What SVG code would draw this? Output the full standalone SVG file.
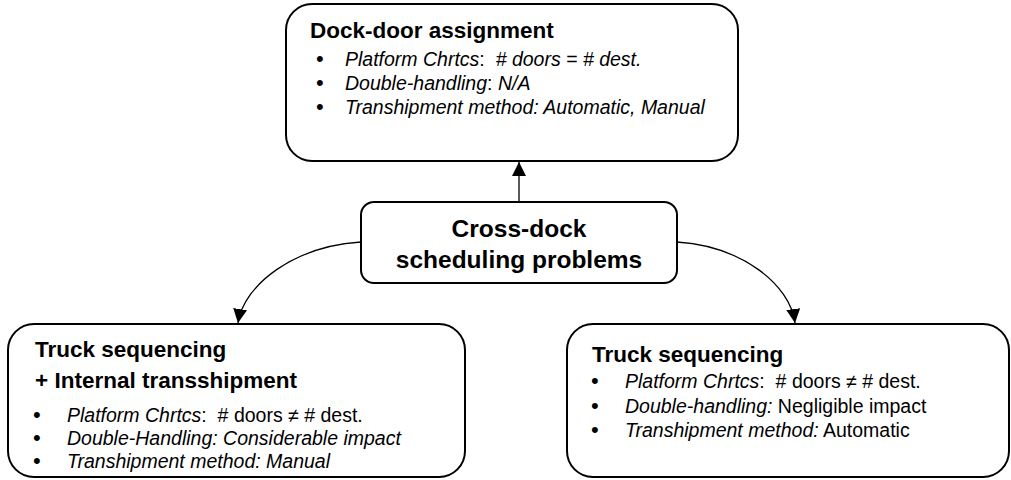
<svg xmlns="http://www.w3.org/2000/svg" width="1011" height="480" viewBox="0 0 1011 480">
<defs>
<style>
.box{fill:#fff;stroke:#000;stroke-width:2}
.t{font-family:"Liberation Sans",Arial,sans-serif;fill:#000}
.title{font-size:22.5px;font-weight:bold}
.center{font-size:24.5px;font-weight:bold}
.b{font-size:19.5px}
.dot{font-size:22px}
.i{font-style:italic}
.conn{fill:none;stroke:#000;stroke-width:1.3}
</style>
<marker id="ah" viewBox="0 0 10 10" refX="10" refY="5" markerWidth="14" markerHeight="14" markerUnits="userSpaceOnUse" orient="auto">
<path d="M0,0 L10,5 L0,10 z" fill="#000"/>
</marker>
</defs>
<g id="connectors">
<path class="conn" d="M519,202 L519,162" marker-end="url(#ah)"/>
<path class="conn" d="M361,242 C295,246 244,284 238,323" marker-end="url(#ah)"/>
<path class="conn" d="M677,242 C741,246 790,284 795,323" marker-end="url(#ah)"/>
</g>
<g id="dock-door">
<rect class="box" x="286" y="4" width="452" height="157" rx="26"/>
<text class="t title" x="310" y="38">Dock-door assignment</text>
<g class="t b">
<text class="dot" x="316" y="66">•</text><text x="345" y="66"><tspan class="i">Platform Chrtcs</tspan>:&#160; <tspan class="i"># doors = # dest.</tspan></text>
<text class="dot" x="316" y="90">•</text><text x="345" y="90"><tspan class="i">Double-handling</tspan>: <tspan class="i">N/A</tspan></text>
<text class="dot" x="316" y="114">•</text><text x="345" y="114"><tspan class="i">Transhipment method: Automatic, Manual</tspan></text>
</g>
</g>
<g id="cross-dock">
<rect class="box" x="361" y="202" width="316" height="81" rx="13"/>
<text class="t center" x="519" y="237" text-anchor="middle">Cross-dock</text>
<text class="t center" x="519" y="268" text-anchor="middle">scheduling problems</text>
</g>
<g id="truck-internal">
<rect class="box" x="8" y="324" width="457" height="153" rx="26"/>
<text class="t title" x="35" y="357">Truck sequencing</text>
<text class="t title" x="35" y="388">+ Internal transshipment</text>
<g class="t b">
<text class="dot" x="33" y="422">•</text><text x="67" y="422"><tspan class="i">Platform Chrtcs</tspan>:&#160; # doors ≠ # dest.</text>
<text class="dot" x="33" y="445">•</text><text x="67" y="445"><tspan class="i">Double-Handling: Considerable impact</tspan></text>
<text class="dot" x="33" y="468">•</text><text x="67" y="468"><tspan class="i">Transhipment method: Manual</tspan></text>
</g>
</g>
<g id="truck-seq">
<rect class="box" x="567" y="324" width="442" height="153" rx="26"/>
<text class="t title" x="592" y="362">Truck sequencing</text>
<g class="t b">
<text class="dot" x="591" y="388">•</text><text x="625" y="388"><tspan class="i">Platform Chrtcs</tspan>:&#160; # doors ≠ # dest.</text>
<text class="dot" x="591" y="413">•</text><text x="625" y="413"><tspan class="i">Double-handling:</tspan> Negligible impact</text>
<text class="dot" x="591" y="437">•</text><text x="625" y="437"><tspan class="i">Transhipment method:</tspan> Automatic</text>
</g>
</g>
</svg>
